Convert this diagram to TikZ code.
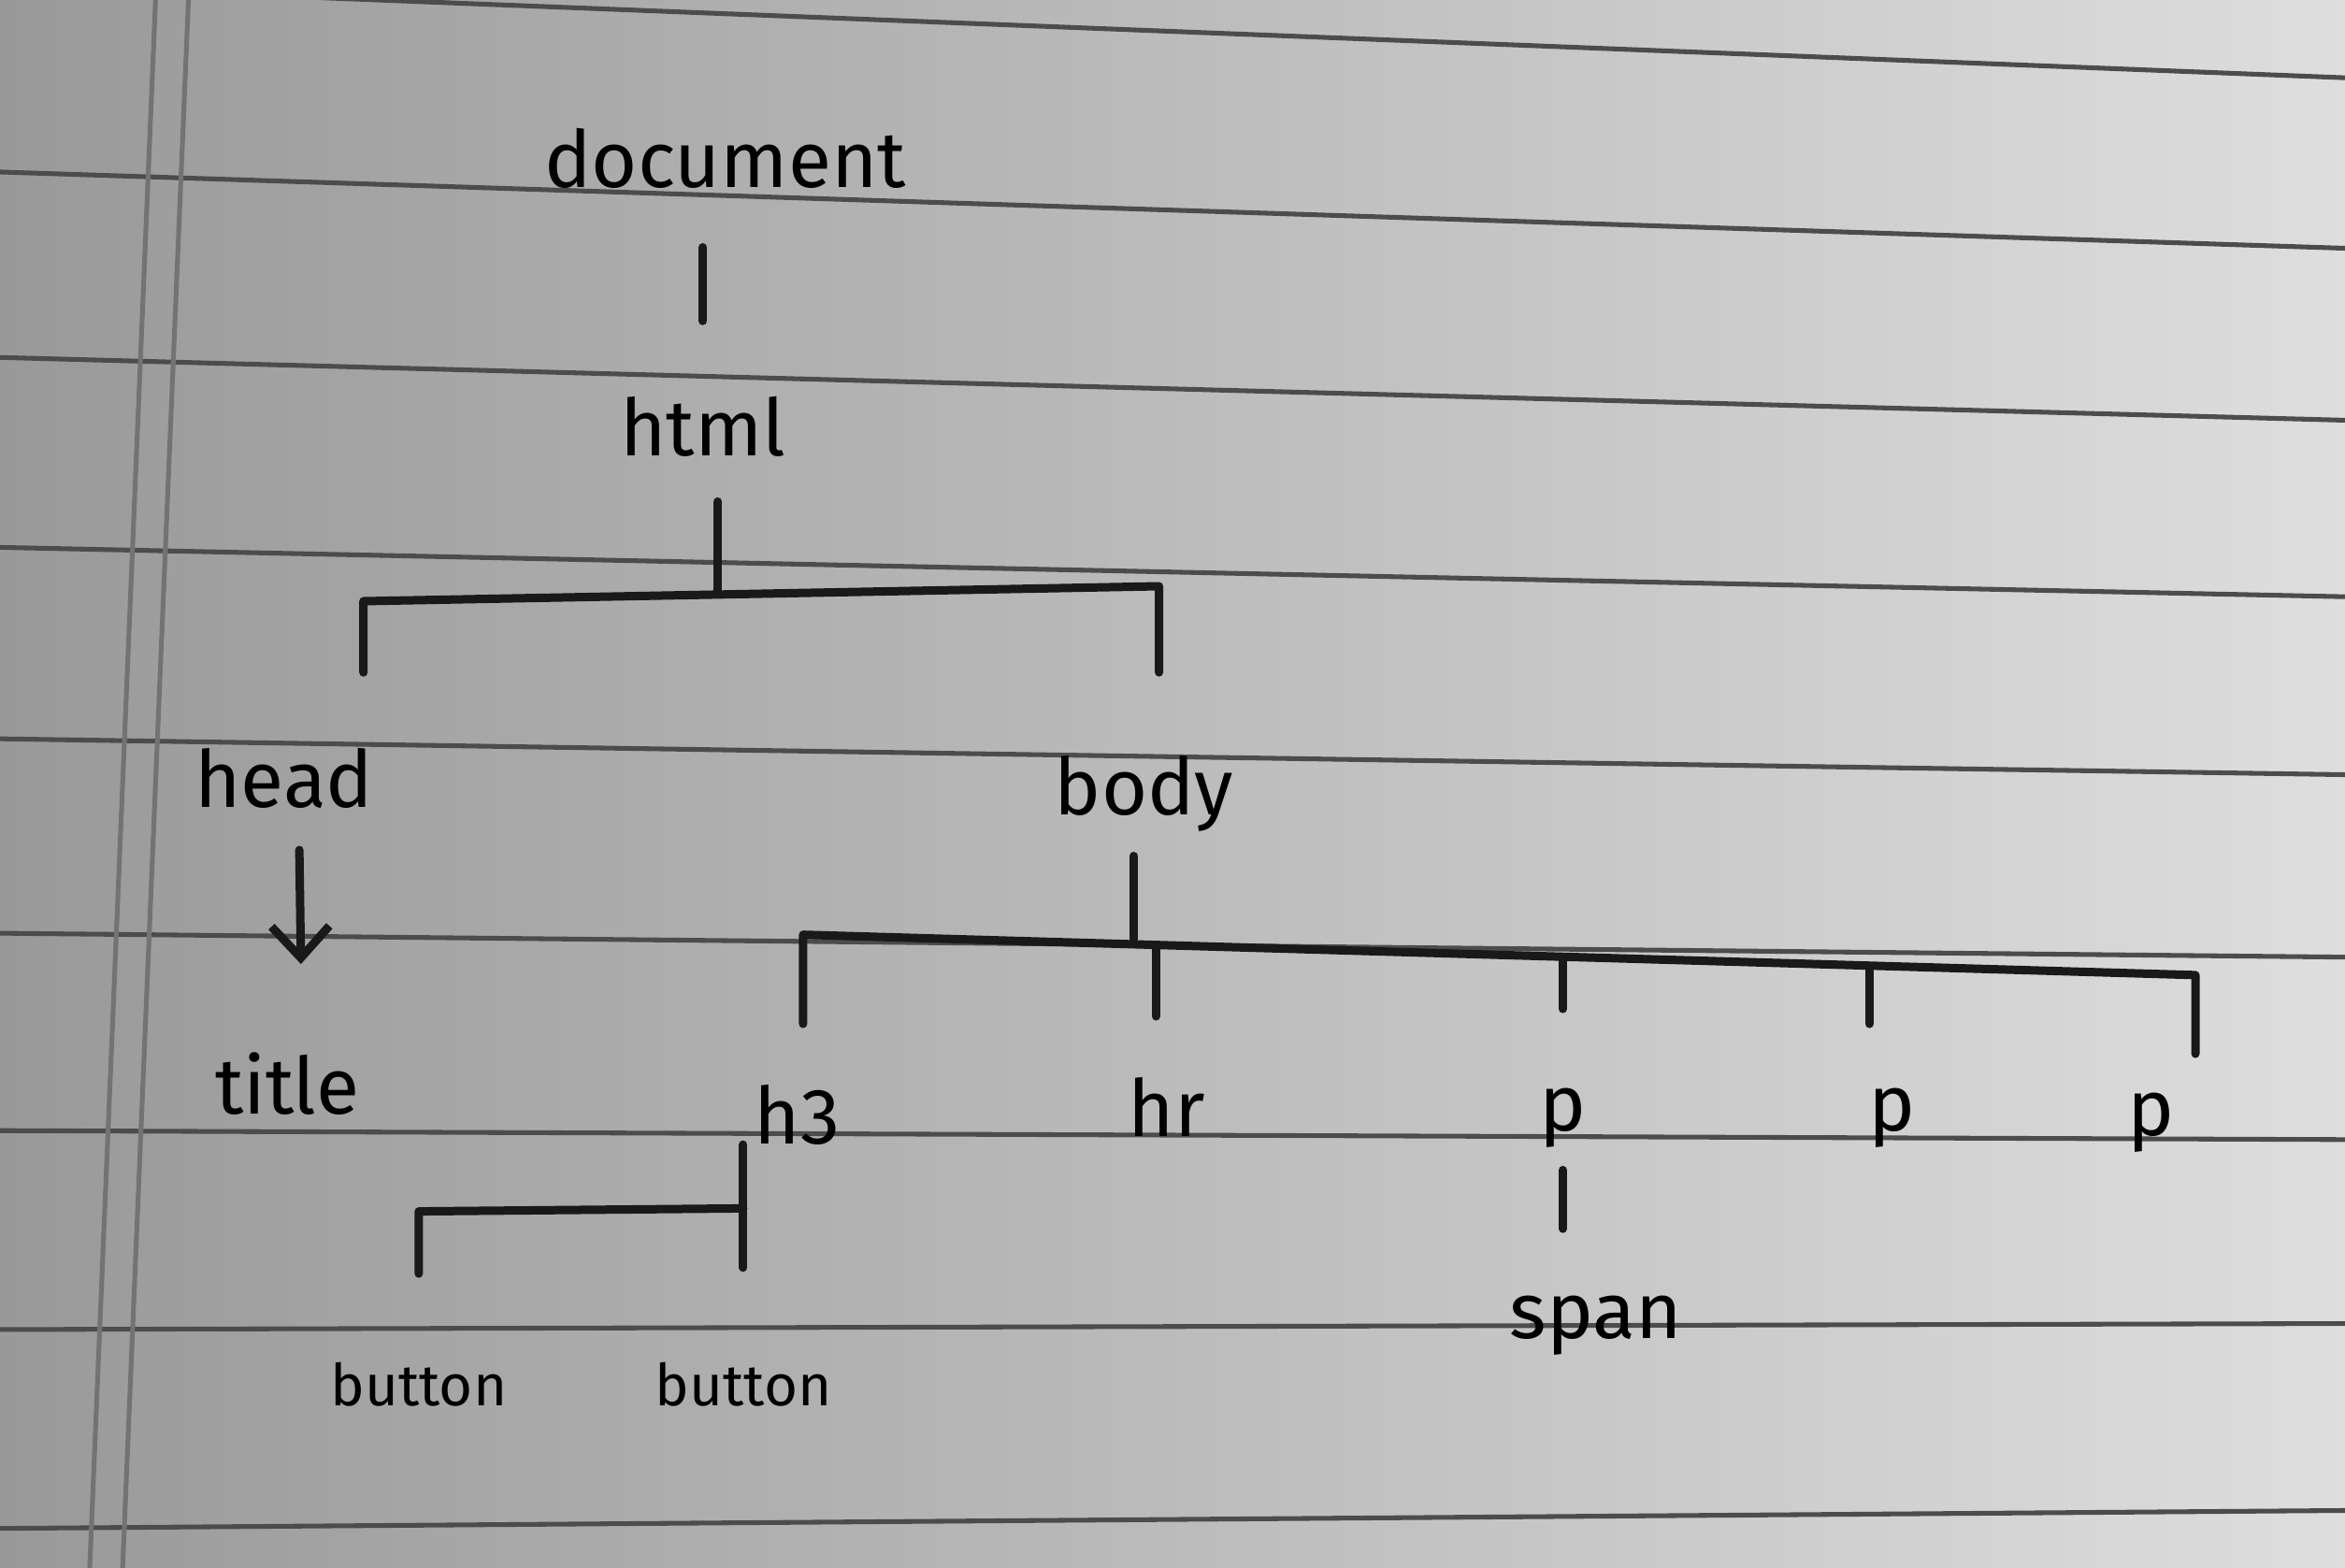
\documentclass[tikz,border=0pt]{standalone}
\usepackage{fontspec}
\setmainfont{Fira Sans}
\usetikzlibrary{arrows.meta}

\begin{document}
\begin{tikzpicture}[x=0.01cm, y=-0.01cm, line join=round, line cap=round,
    >={Straight Barb[length=6pt, width=11pt]},
    tag/.style={font=\fontsize{15}{18}\selectfont, inner sep=2pt, text height=11pt, text depth=3pt},
    smalltag/.style={tag, font=\fontsize{11}{14}\selectfont},
    edge/.style={line width=1.6pt, black!90},
    rule/.style={line width=0.9pt, black!70}]
    % 纸面
    \useasboundingbox (0,0) rectangle (1568,1048);
    \shade[left color=black!40, middle color=black!21, right color=black!13] (0,0) rectangle (1568,1048);
    \clip (0,0) rectangle (1568,1048);
    \foreach \a/\b in {-10/52, 115/166, 239/281, 366/399, 494/518, 624/640, 756/762, 889/885, 1022/1010}
        \draw[rule] (0,\a) -- (1568,\b);
    \draw[rule, black!55] (104,0) -- (60,1048);
    \draw[rule, black!55] (126,0) -- (82,1048);

    \node[tag] (document) at (485,111) {document};
    \node[tag] (html) at (470,291) {html};
    \node[tag] (head) at (190,526) {head};
    \node[tag] (body) at (765,531) {body};
    \node[tag] (title) at (192,731) {title};
    \node[tag] (h3) at (533,751) {h3};
    \node[tag] (hr) at (780,746) {hr};
    \node[tag] (p1) at (1045,742) {p};
    \node[tag] (p2) at (1265,742) {p};
    \node[tag] (p3) at (1438,745) {p};
    \node[tag] (span) at (1067,881) {span};
    \node[smalltag] (button1) at (280,926) {button};
    \node[smalltag] (button2) at (497,926) {button};

    \draw[edge, shorten <=0.22cm, shorten >=0.44cm] (document.south -| html) -- (html);

    % html 分支
    \coordinate (jh) at (480,397);
    \coordinate (hbl) at (243,402);
    \coordinate (hbr) at (775,392);
    \draw[edge, shorten <=0.12cm] (jh |- html.south) -- (jh);
    \draw[edge, shorten <=0.44cm, shorten >=0.49cm] (hbl |- head.north) -- (hbl) -- (hbr) -- (hbr |- body.north);

    \draw[edge, ->, shorten <=0.1cm, shorten >=0.54cm] ([xshift=0.1cm]head.south) -- ([xshift=0.1cm]title.north);

    % body 分支
    \coordinate (jb) at (758,628);
    \coordinate (bl) at (537,625);
    \coordinate (br) at (1468,652);
    \draw[edge, shorten <=0.09cm] (jb |- body.south) -- (jb);
    \draw[edge, shorten <=0.34cm, shorten >=0.08cm] (bl |- h3.north) -- (bl) -- (br) -- (br |- p3.north);
    \foreach \n/\x/\y/\s in {hr/773/632/0.34, p1/1045/640/0.35, p2/1250/646/0.25} {
        \coordinate (d\n) at (\x,\y);
        \draw[edge, shorten >=\s cm] (d\n) -- (d\n |- \n.north);
    }

    % h3 分支
    \coordinate (kr) at (497,808);
    \coordinate (kb) at (280,810);
    \draw[edge, shorten <=-0.18cm, shorten >=0.46cm] (h3.south -| button2.north) -- (button2.north);
    \draw[edge, shorten >=0.42cm] (kr) -- (kb) -- (kb |- button1.north);

    \draw[edge, shorten <=0.08cm, shorten >=0.27cm] (p1.south) -- (p1.south |- span.north);
\end{tikzpicture}
\end{document}
